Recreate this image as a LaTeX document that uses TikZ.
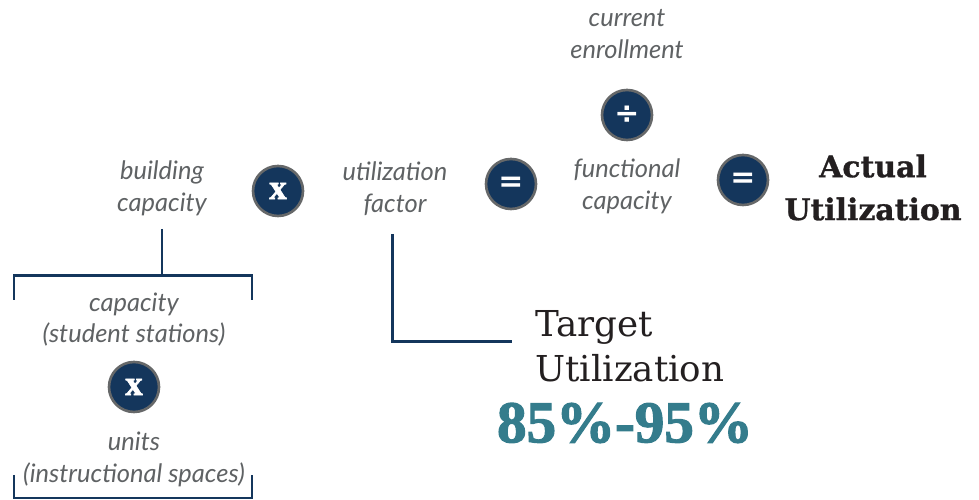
\documentclass[tikz,border=0pt]{standalone}
\usepackage{fontspec}
\setmainfont{Lato}
\newfontfamily\slabfont[BoldFeatures={FakeBold=1}]{DejaVu Serif}
\newfontfamily\fatfont[FakeBold=2]{Liberation Serif}
\newfontfamily\signfont{DejaVu Sans}
\definecolor{navyblue}{HTML}{14365C}
\definecolor{ringgray}{HTML}{666869}
\definecolor{textgray}{HTML}{5F6264}
\definecolor{tealblue}{HTML}{347C8C}
\definecolor{inkblack}{HTML}{231F20}
\tikzset{
  opcircle/.style={circle,draw=ringgray,line width=1.5pt,fill=navyblue,text=white,minimum size=1.0cm,inner sep=0pt},
  timessign/.style={font=\fatfont\bfseries\fontsize{20}{20}\selectfont},
  mathsign/.style={font=\signfont\bfseries\fontsize{17}{17}\selectfont},
  term/.style={align=center,text=textgray,inner sep=0pt,font=\itshape\fontsize{14.5}{18.1}\selectfont},
  bracketline/.style={draw=navyblue,line width=1.7pt}
}
\begin{document}
\begin{tikzpicture}
\useasboundingbox (0,0) rectangle (19.58,10);
% top row
\node[term] (building) at (3.24,6.23) {building\\capacity};
\node[opcircle,timessign] (times) at (5.56,6.18) {x};
\node[term] (factor) at (7.90,6.23) {utilization\\factor};
\node[opcircle,mathsign] (equalsone) at (10.22,6.32) {=};
\node[term] (functional) at (12.54,6.27) {functional\\capacity};
\node[opcircle,mathsign] (equalstwo) at (14.86,6.40) {=};
\node[align=center,text=inkblack,inner sep=0pt,font=\slabfont\bfseries\fontsize{17}{24.4}\selectfont] (actual) at (17.46,6.25) {Actual\\Utilization};
% division above functional capacity
\node[term] (enrollment) at (12.54,9.32) {current\\enrollment};
\node[opcircle,mathsign] (divide) at (12.54,7.70) {÷};
% capacity breakdown
\node[term] (stations) at (2.68,3.61) {capacity\\(student stations)};
\node[opcircle,timessign] (timestwo) at (2.68,2.26) {x};
\node[term] (spaces) at (2.68,0.81) {units\\(instructional spaces)};
% target
\node[align=left,anchor=west,text=inkblack,inner sep=0pt,font=\slabfont\fontsize{20.3}{25.5}\selectfont] (target) at (10.70,3.08) {Target\\Utilization};
\node[text=tealblue,inner sep=0pt,font=\fatfont\bfseries\fontsize{33.6}{33.6}\selectfont] (percent) at (12.50,1.54) {85\%-95\%};
% brackets and leader lines
\coordinate (buildfoot) at (3.24,5.42);
\coordinate (buildjoin) at (3.24,4.48);
\coordinate (topleft) at (0.28,4.48);
\coordinate (topright) at (5.04,4.48);
\coordinate (topleftend) at (0.28,4.00);
\coordinate (toprightend) at (5.04,4.00);
\coordinate (botleft) at (0.28,0.04);
\coordinate (botright) at (5.04,0.04);
\coordinate (botleftend) at (0.28,0.50);
\coordinate (botrightend) at (5.04,0.50);
\coordinate (factorfoot) at (7.84,5.32);
\coordinate (factorcorner) at (7.84,3.16);
\coordinate (targetend) at (10.24,3.16);
\draw[bracketline] (buildfoot) -- (buildjoin);
\draw[bracketline] (topleftend) -- (topleft) -- (topright) -- (toprightend);
\draw[bracketline] (botleftend) -- (botleft) -- (botright) -- (botrightend);
\draw[bracketline] (factorfoot) -- (factorcorner) -- (targetend);
\end{tikzpicture}
\end{document}
